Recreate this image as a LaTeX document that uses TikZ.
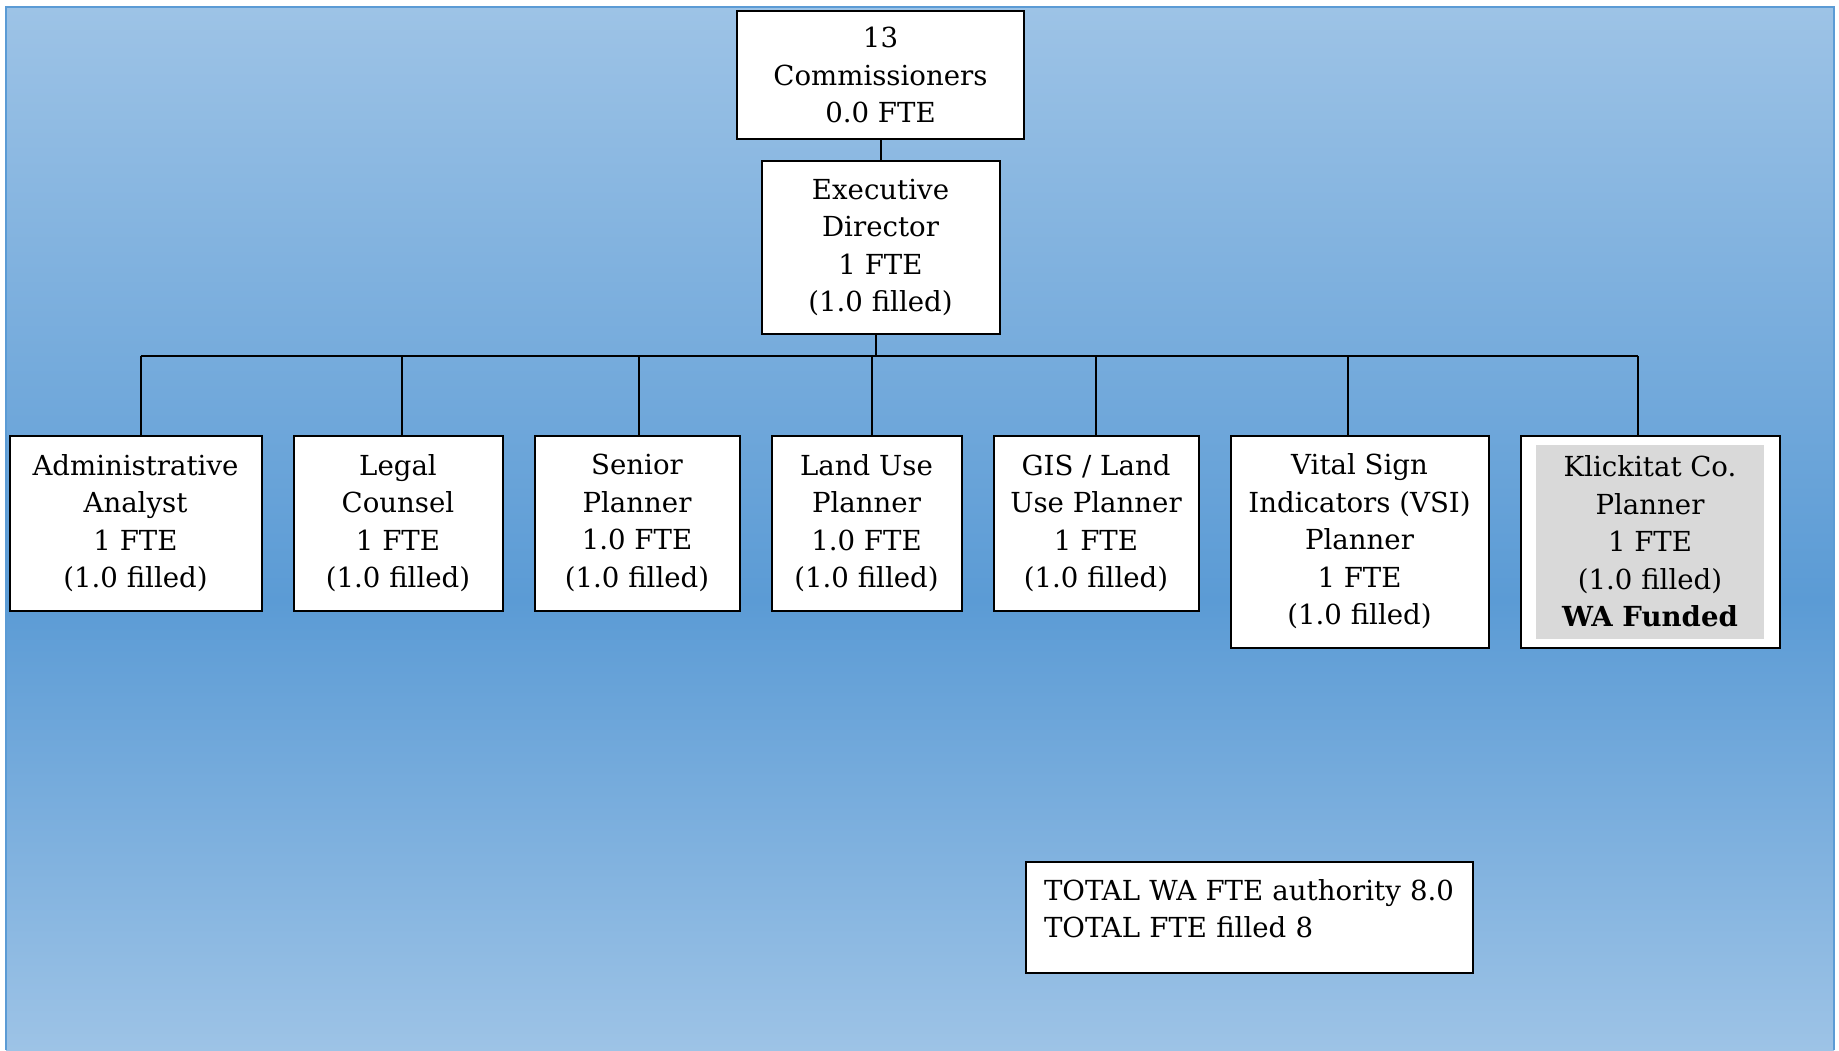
\documentclass[tikz,border=0pt]{standalone}
\usepackage{fontspec}
\setmainfont{DejaVu Serif}
\usetikzlibrary{positioning}
\definecolor{bglight}{HTML}{9DC3E6}
\definecolor{bgdark}{HTML}{5B9BD5}
\definecolor{fundgrey}{HTML}{D9D9D9}

\begin{document}
\begin{tikzpicture}[x=0.5pt,y=-0.5pt,node distance=15pt,post/.style={draw,fill=white,line width=1pt,align=center,inner sep=2pt,minimum height=87.5pt,font=\fontsize{13.8pt}{18.75pt}\selectfont},link/.style={line width=1pt}]
\useasboundingbox (0,0) rectangle (1839,1050);
\shade[top color=bglight,bottom color=bgdark] (6,7) rectangle (1834,600);
\shade[top color=bgdark,bottom color=bglight] (6,600) rectangle (1834,1050);
\draw[bgdark,line width=1.2pt] (6,1050) -- (6,7) -- (1834,7) -- (1834,1050);
\node[post,minimum width=143.5pt,minimum height=64pt] (comm) at (880.5,75) {13\\Commissioners\\0.0 FTE};
\node[post,minimum width=119pt,minimum height=86.5pt,below=10pt of comm] (exec) {Executive\\Director\\1 FTE\\(1.0 filled)};
\node[post,minimum width=126pt,anchor=north west] (admin) at (8.5,434.5) {Administrative\\Analyst\\1 FTE\\(1.0 filled)};
\node[post,minimum width=104.5pt,right=of admin.north east,anchor=north west] (legal) {Legal\\Counsel\\1 FTE\\(1.0 filled)};
\node[post,minimum width=102.5pt,right=of legal.north east,anchor=north west] (senior) {Senior\\Planner\\1.0 FTE\\(1.0 filled)};
\node[post,minimum width=95pt,right=of senior.north east,anchor=north west] (land) {Land Use\\Planner\\1.0 FTE\\(1.0 filled)};
\node[post,minimum width=102.5pt,right=of land.north east,anchor=north west] (gis) {GIS / Land\\Use Planner\\1 FTE\\(1.0 filled)};
\node[post,minimum width=129pt,minimum height=106pt,right=of gis.north east,anchor=north west] (vsi) {Vital Sign\\Indicators (VSI)\\Planner\\1 FTE\\(1.0 filled)};
\node[post,minimum width=129.5pt,minimum height=106pt,right=of vsi.north east,anchor=north west] (klick) {};
\node[fill=fundgrey,minimum width=114pt,minimum height=97pt,align=center,font=\fontsize{13.8pt}{18.75pt}\selectfont] (klicktext) at (klick) {Klickitat Co.\\Planner\\1 FTE\\(1.0 filled)\\\textbf{WA Funded}};
\node[post,minimum width=223.5pt,minimum height=55.5pt,align=left,text width=205pt,inner xsep=9pt,anchor=north west] (total) at (1024.5,860.5) {TOTAL WA FTE authority 8.0\\TOTAL FTE filled 8\\[-10pt]\mbox{}};
\coordinate (bar) at (0,356);
\draw[link] (comm) -- (exec);
\draw[link] ([xshift=-2.5pt]exec.south) -- ([xshift=-2.5pt]exec.south |- bar);
\draw[link] ([xshift=2.5pt]admin.north |- bar) -- ([xshift=-6pt]klick.north |- bar);
\foreach \n/\dx in {admin/2.5pt,legal/2pt,senior/1pt,land/2.5pt,gis/0pt,vsi/-6pt,klick/-6pt}
  \draw[link] ([xshift=\dx]\n.north |- bar) -- ([xshift=\dx]\n.north);
\end{tikzpicture}
\end{document}
